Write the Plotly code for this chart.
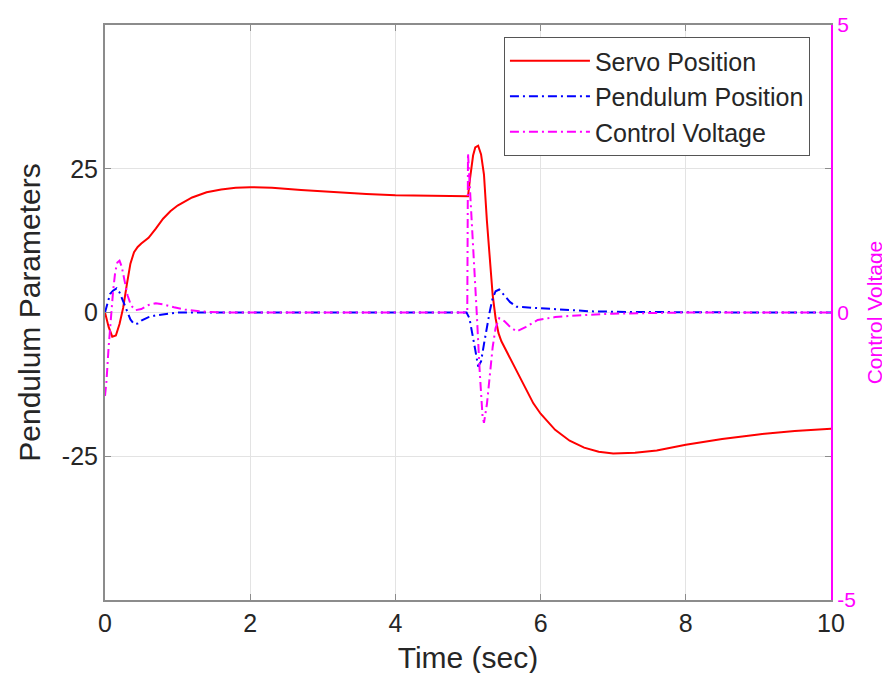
import plotly.graph_objects as go

# Servo position (left axis)
servo_t = [0, 0.05, 0.1, 0.15, 0.2, 0.25, 0.3, 0.35, 0.4, 0.45, 0.5, 0.6, 0.7, 0.8,
           0.9, 1.0, 1.2, 1.4, 1.6, 1.8, 2.0, 2.3, 2.7, 3.2, 3.6, 4.0, 4.5, 5.0,
           5.03, 5.07, 5.1, 5.14, 5.18, 5.22, 5.26, 5.3, 5.34, 5.38, 5.42, 5.46,
           5.5, 5.55, 5.6, 5.7, 5.8, 5.9, 6.0, 6.2, 6.4, 6.6, 6.8, 7.0, 7.3, 7.6,
           8.0, 8.5, 9.0, 9.5, 10.0]
servo_v = [0, -2.5, -4.2, -4.0, -2.0, 0.8, 4.8, 8.5, 10.5, 11.4, 12.0, 13.0, 14.6,
           16.3, 17.6, 18.6, 20.0, 20.9, 21.4, 21.7, 21.8, 21.7, 21.3, 20.9, 20.6,
           20.4, 20.3, 20.2, 23.5, 27.3, 28.7, 29.0, 27.5, 24.0, 16.0, 9.0, 3.0,
           -1.0, -3.6, -5.0, -6.0, -7.0, -8.3, -11.0, -13.5, -15.8, -17.6, -20.4,
           -22.3, -23.5, -24.2, -24.5, -24.4, -24.0, -23.0, -22.0, -21.2, -20.6,
           -20.2]

# Pendulum position (left axis)
pend_t = [0, 0.03, 0.07, 0.11, 0.16, 0.2, 0.25, 0.3, 0.35, 0.4, 0.45, 0.5, 0.6,
          0.7, 0.85, 1.0, 1.5, 2, 3, 4, 4.98, 5.02, 5.06, 5.1, 5.14, 5.18, 5.22,
          5.26, 5.3, 5.34, 5.38, 5.43, 5.5, 5.58, 5.67, 5.8, 6.0, 6.3, 6.7, 7.2,
          8, 9, 10]
pend_v = [0, 1.5, 3.2, 3.8, 4.2, 3.5, 2.0, 0.4, -1.2, -2.0, -1.9, -1.4, -0.8,
          -0.5, -0.2, 0, 0, 0, 0, 0, 0, -1.0, -3.5, -6.5, -9.4, -8.5, -5.5, -2.5,
          0.2, 2.5, 3.7, 4.0, 3.0, 1.8, 1.0, 0.9, 0.7, 0.4, 0.2, 0.1, 0, 0, 0]

# Control voltage (right axis)
volt_t = [0, 0.02, 0.05, 0.08, 0.11, 0.14, 0.17, 0.2, 0.23, 0.27, 0.31, 0.36,
          0.42, 0.5, 0.6, 0.7, 0.8, 0.95, 1.1, 1.3, 1.6, 2, 3, 4, 4.99, 5.0,
          5.04, 5.08, 5.12, 5.16, 5.2, 5.22, 5.26, 5.3, 5.34, 5.38, 5.43, 5.5,
          5.58, 5.67, 5.8, 5.96, 6.2, 6.5, 7, 8, 9, 10]
volt_v = [-1.45, -1.2, -0.6, -0.1, 0.35, 0.7, 0.87, 0.9, 0.8, 0.55, 0.3, 0.12,
          0.04, 0.06, 0.13, 0.16, 0.14, 0.09, 0.05, 0.02, 0.0, 0, 0, 0, 0, 2.77,
          1.9, 1.0, 0.0, -1.0, -1.8, -1.92, -1.6, -1.1, -0.6, -0.27, -0.1, -0.15,
          -0.25, -0.33, -0.25, -0.13, -0.08, -0.05, -0.02, 0, 0, 0]

x_ticks = [0, 2, 4, 6, 8, 10]
left_ticks = [-25, 0, 25]
left_labels = ["-25", "0", "25"]
right_ticks = [-5, 0, 5]
right_labels = ["-5", "0", "5"]

FONT = "Liberation Sans, Arial, sans-serif"
TEXT = "#262626"
AXIS = "#8c8c8c"
MAGENTA = "#ff00ff"
DASHDOT = "9px,4px,2px,4px"

fig = go.Figure()

fig.add_trace(go.Scatter(x=servo_t, y=servo_v, mode="lines", name="Servo Position",
                         line=dict(color="#ff0000", width=2)))
fig.add_trace(go.Scatter(x=pend_t, y=pend_v, mode="lines", name="Pendulum Position",
                         line=dict(color="#0000ff", width=2, dash=DASHDOT)))
fig.add_trace(go.Scatter(x=volt_t, y=volt_v, mode="lines", name="Control Voltage",
                         line=dict(color=MAGENTA, width=2, dash=DASHDOT),
                         yaxis="y2"))

fig.update_layout(
    width=890, height=673,
    margin=dict(l=97, r=67, t=17, b=81, autoexpand=False),
    paper_bgcolor="white", plot_bgcolor="white",
    font=dict(family=FONT, color=TEXT, size=25),
    showlegend=True,
    legend=dict(x=0.971, y=0.979, xanchor="right", yanchor="top",
                bgcolor="white", bordercolor="#555555", borderwidth=1,
                font=dict(size=25, color=TEXT), tracegroupgap=0,
                itemwidth=80),
    xaxis=dict(range=[0, 10], tickvals=x_ticks, showgrid=True, gridcolor="#e3e3e3",
               gridwidth=1, zeroline=False, showline=True, linecolor=AXIS,
               linewidth=2, mirror="ticks", ticks="inside", ticklen=6,
               tickcolor=AXIS, tickfont=dict(size=25, color=TEXT), automargin=False,
               title=dict(text="Time (sec)", font=dict(size=30, color=TEXT),
                          standoff=11)),
    yaxis=dict(range=[-50, 50], tickvals=left_ticks, ticktext=left_labels,
               showgrid=True, gridcolor="#e3e3e3", gridwidth=1, zeroline=False,
               showline=True, linecolor=AXIS, linewidth=2, mirror="ticks",
               ticks="inside", ticklen=6, tickcolor=AXIS, automargin=False,
               tickfont=dict(size=25, color=TEXT),
               title=dict(text="Pendulum Parameters",
                          font=dict(size=30, color=TEXT), standoff=12)),
    yaxis2=dict(range=[-5, 5], tickvals=right_ticks, ticktext=right_labels,
                overlaying="y", side="right", automargin=False,
                showgrid=False, zeroline=False, showline=True, linecolor=MAGENTA,
                linewidth=2, ticks="inside", ticklen=6, tickcolor=MAGENTA,
                tickfont=dict(size=21, color=MAGENTA),
                title=dict(text="Control Voltage", font=dict(size=21, color=MAGENTA),
                           standoff=12)),
)

fig.write_html("out.html")
